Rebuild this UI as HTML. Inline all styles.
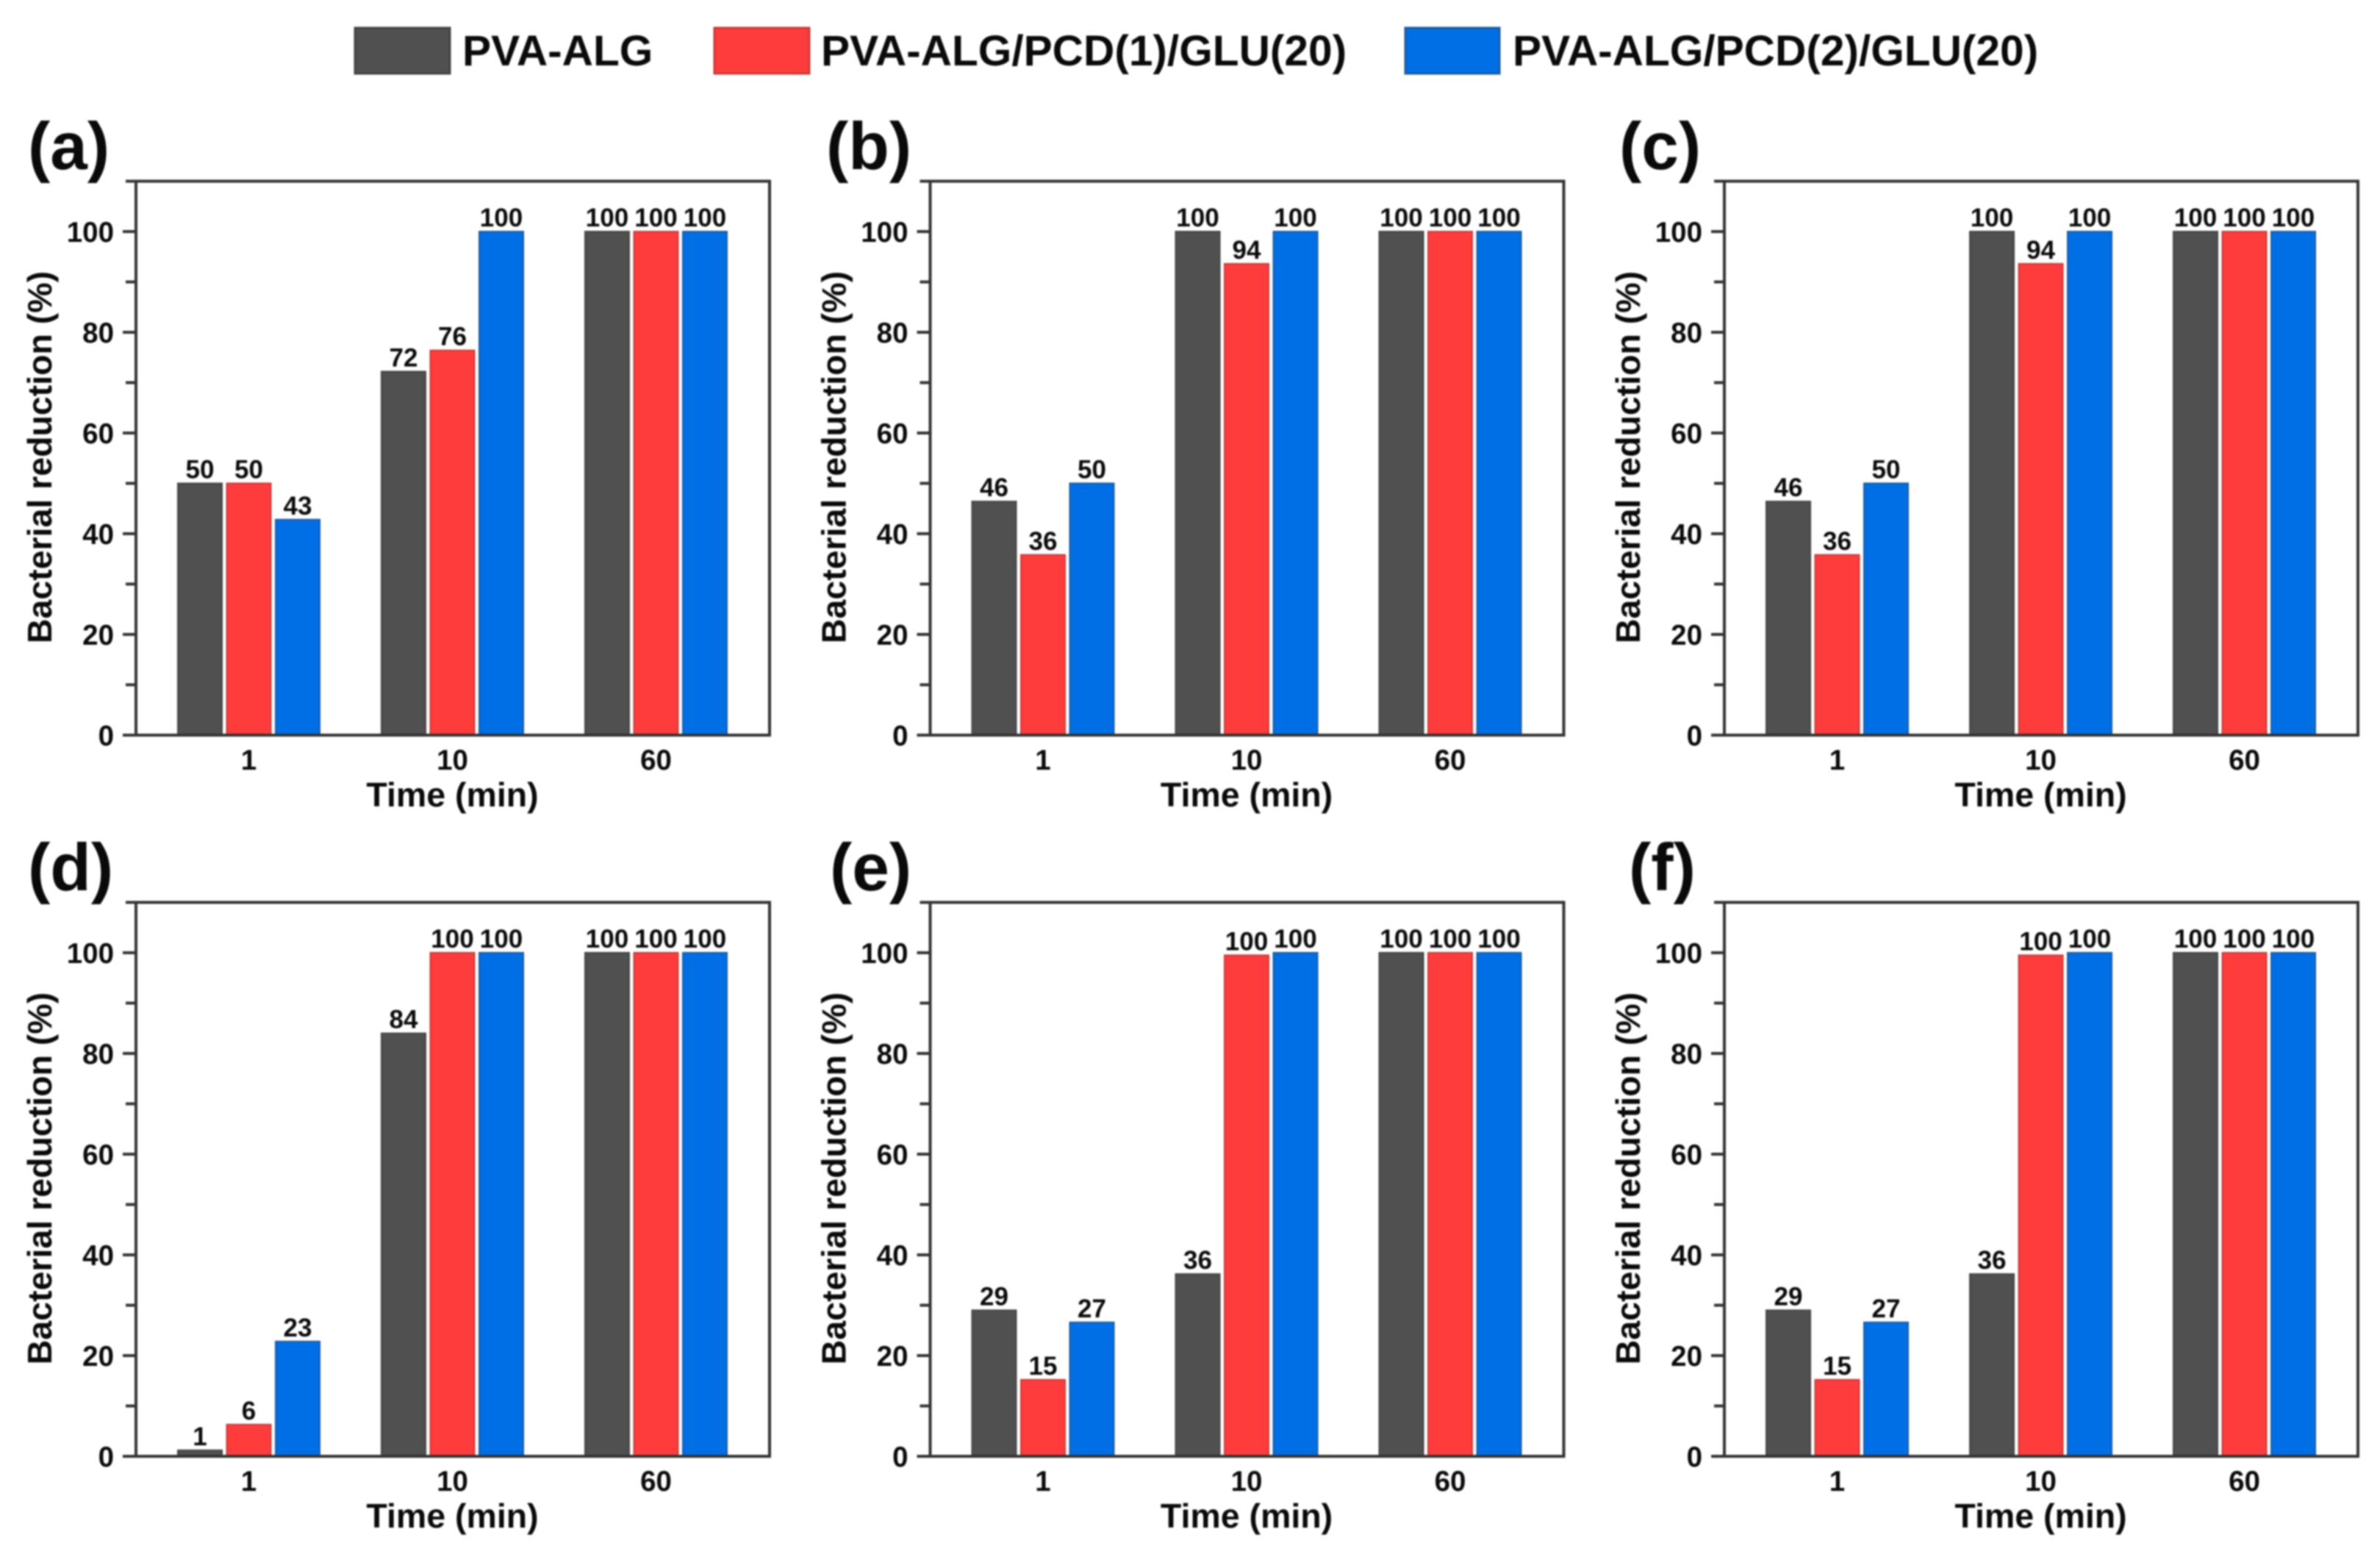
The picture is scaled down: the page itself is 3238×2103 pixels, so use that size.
<!DOCTYPE html>
<html lang="en">
<head>
<meta charset="utf-8">
<title>Bacterial reduction over time</title>
<style>
html,body{margin:0;padding:0;background:#fff;}
svg{display:block;}
text{font-family:"Liberation Sans",sans-serif;font-weight:bold;fill:#0a0a0a;}
</style>
</head>
<body>
<svg id="figure" xmlns="http://www.w3.org/2000/svg" width="3238" height="2103" viewBox="0 0 3238 2103">
  <defs>
    <filter id="soft" filterUnits="userSpaceOnUse" x="0" y="0" width="3238" height="2103" color-interpolation-filters="sRGB">
      <feGaussianBlur stdDeviation="1"/>
    </filter>
  </defs>
  <rect x="0" y="0" width="3238" height="2103" fill="#ffffff"/>
  <g id="root" filter="url(#soft)">
    <g>
      <g>
        <rect x="483" y="38" width="129" height="62" fill="#505050" stroke="#444444" stroke-width="3"/>
        <text x="629" y="89" font-size="58.6">PVA-ALG</text>
      </g>
      <g>
        <rect x="972" y="38" width="129" height="62" fill="#ff3c3c" stroke="#c83a3a" stroke-width="3"/>
        <text x="1117" y="89" font-size="58.6">PVA-ALG/PCD(1)/GLU(20)</text>
      </g>
      <g>
        <rect x="1912" y="38" width="128" height="62" fill="#006fe6" stroke="#1b5a9e" stroke-width="3"/>
        <text x="2058" y="89" font-size="58.6">PVA-ALG/PCD(2)/GLU(20)</text>
      </g>
    </g>
  </g>
</svg>
<script>
// ---- chart data (percent reduction) ----
const timeCategories = ["1", "10", "60"];
const yTickValues = [0, 10, 20, 30, 40, 50, 60, 70, 80, 90, 100, 110];
const yTickLabels = ["0", "", "20", "", "40", "", "60", "", "80", "", "100", ""];
const yAxisMax = [110];

const panelLetters = ["a", "b", "c", "d", "e", "f"];

const panelA_pvaAlg = [50, 72.2, 100];
const panelA_pcd1 = [50, 76.4, 100];
const panelA_pcd2 = [42.8, 100, 100];

const panelB_pvaAlg = [46.4, 100, 100];
const panelB_pcd1 = [35.8, 93.6, 100];
const panelB_pcd2 = [50, 100, 100];

const panelC_pvaAlg = [46.4, 100, 100];
const panelC_pcd1 = [35.8, 93.6, 100];
const panelC_pcd2 = [50, 100, 100];

const panelD_pvaAlg = [1.2, 84, 100];
const panelD_pcd1 = [6.3, 100, 100];
const panelD_pcd2 = [22.8, 100, 100];

const panelE_pvaAlg = [29, 36.2, 100];
const panelE_pcd1 = [15.2, 99.5, 100];
const panelE_pcd2 = [26.6, 100, 100];

const panelF_pvaAlg = [29, 36.2, 100];
const panelF_pcd1 = [15.2, 99.5, 100];
const panelF_pcd2 = [26.6, 100, 100];

const allPanelSeries = [
  [panelA_pvaAlg, panelA_pcd1, panelA_pcd2],
  [panelB_pvaAlg, panelB_pcd1, panelB_pcd2],
  [panelC_pvaAlg, panelC_pcd1, panelC_pcd2],
  [panelD_pvaAlg, panelD_pcd1, panelD_pcd2],
  [panelE_pvaAlg, panelE_pcd1, panelE_pcd2],
  [panelF_pvaAlg, panelF_pcd1, panelF_pcd2]
];

// ---- drawing ----
const NS = "http://www.w3.org/2000/svg";
const root = document.getElementById("root");
const fills = ["#505050", "#ff3c3c", "#006fe6"];
const edges = ["#444444", "#c83a3a", "#1b5a9e"];
const seriesKeys = ["pva-alg", "pcd1", "pcd2"];
const AXIS = "#333333";

function make(tag, attrs, parent, txt) {
  const n = document.createElementNS(NS, tag);
  for (const k in attrs) n.setAttribute(k, attrs[k]);
  if (txt !== undefined) n.textContent = txt;
  parent.appendChild(n);
  return n;
}

panelLetters.forEach(function (letter, p) {
  const col = p % 3;
  const row = Math.floor(p / 3);
  const left = 185 + col * 1080.5;
  const width = 862;
  const zeroY = row === 0 ? 1000 : 1981;
  const pxPerUnit = 6.85;
  const yScale = function (v) { return zeroY - v * pxPerUnit; };
  const xScale = function (i) { return left + 153.5 + i * 277; };
  const barPitch = 66.5;
  const barWidth = 60;
  const topY = yScale(yAxisMax[0]);

  const g = make("g", {}, root);
  
  

  const labelX = [38, 1124, 2203, 38, 1129, 2216][p];
  const tag = make("text", { x: labelX, y: zeroY - 770, "font-size": 91 }, g, "(" + letter + ")");
  
  

  // bars
  allPanelSeries[p].forEach(function (values, s) {
    values.forEach(function (v, i) {
      const cx = xScale(i) + (s - 1) * barPitch;
      const bar = make("rect", {
        x: cx - barWidth / 2,
        y: yScale(v),
        width: barWidth,
        height: zeroY - yScale(v),
        fill: fills[s],
        stroke: edges[s],
        "stroke-width": 2
      }, g);
      
      

      const val = make("text", {
        x: cx,
        y: yScale(v) - 7,
        "font-size": 35,
        "text-anchor": "middle"
      }, g, String(Math.round(v)));
      
      
    });
  });

  // frame
  const frame = make("rect", {
    x: left, y: topY, width: width, height: zeroY - topY,
    fill: "none", stroke: AXIS, "stroke-width": 4
  }, g);
  
  

  // y ticks
  yTickValues.forEach(function (t, i) {
    const major = yTickLabels[i] !== "";
    const tick = make("line", {
      x1: left - (major ? 18 : 14), x2: left,
      y1: yScale(t), y2: yScale(t),
      stroke: AXIS, "stroke-width": 4
    }, g);
    
    
    if (major) {
      const lab = make("text", {
        x: left - 30, y: yScale(t) + 14,
        "font-size": 38.5, "text-anchor": "end"
      }, g, yTickLabels[i]);
      
      
    }
  });

  // x labels
  timeCategories.forEach(function (c, i) {
    const lab = make("text", {
      x: xScale(i), y: zeroY + 47,
      "font-size": 38.5, "text-anchor": "middle"
    }, g, c);
    
    
  });

  const xTitle = make("text", {
    x: xScale(1), y: zeroY + 97,
    "font-size": 46.5, "text-anchor": "middle"
  }, g, "Time (min)");
  
  

  const cy = zeroY - 378;
  const yTitle = make("text", {
    x: left - 115, y: cy,
    "font-size": 46.5, "text-anchor": "middle",
    transform: "rotate(-90 " + (left - 115) + " " + cy + ")"
  }, g, "Bacterial reduction (%)");
  
  
});
</script>
</body>
</html>
